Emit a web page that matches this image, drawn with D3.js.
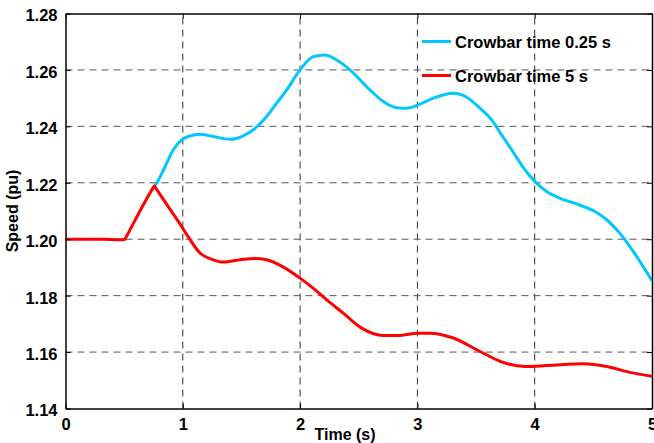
<!DOCTYPE html>
<html>
<head>
<meta charset="utf-8">
<script src="https://cdn.jsdelivr.net/npm/d3@7"></script>
<style>
  html, body { margin: 0; padding: 0; background: #fff; }
  svg { display: block; }
  text { font-family: "Liberation Sans", Arial, sans-serif; font-weight: bold; fill: #000; }
</style>
</head>
<body>
<svg id="chart" width="654" height="443"></svg>
<script>
// Rotor speed after fault, two crowbar durations
const xTicks = [0, 1, 2, 3, 4, 5];
const yTicks = [1.14, 1.16, 1.18, 1.20, 1.22, 1.24, 1.26, 1.28];

const seriesNames = ["Crowbar time 0.25 s", "Crowbar time 5 s"];
const seriesColors = ["#00c8ff", "#ff0000"];

const timeShort = [0.757, 0.777, 0.848, 0.919, 0.99, 1.061, 1.147, 1.26, 1.402, 1.502, 1.616, 1.715, 1.8, 1.886, 1.999, 2.113, 2.212, 2.312, 2.425, 2.596, 2.709, 2.824, 2.909, 3.008, 3.136, 3.306, 3.42, 3.534, 3.633, 3.719, 3.818, 3.903, 4.003, 4.102, 4.216, 4.358, 4.514, 4.614, 4.713, 4.841, 5.0];
const speedShort = [1.2189, 1.2199, 1.2257, 1.2317, 1.2352, 1.2366, 1.2372, 1.2364, 1.2354, 1.2364, 1.2393, 1.2435, 1.2482, 1.2529, 1.2600, 1.2647, 1.2653, 1.2635, 1.2600, 1.2529, 1.2488, 1.2466, 1.2464, 1.2476, 1.2500, 1.2517, 1.2503, 1.2464, 1.2423, 1.2369, 1.2308, 1.2254, 1.2204, 1.2169, 1.2145, 1.2125, 1.2098, 1.2069, 1.2027, 1.1956, 1.1853];

const timeLong = [0, 0.3, 0.48, 0.507, 0.52, 0.745, 0.757, 0.77, 0.88, 0.99, 1.047, 1.147, 1.26, 1.345, 1.488, 1.616, 1.715, 1.857, 1.999, 2.113, 2.227, 2.368, 2.525, 2.709, 2.852, 2.999, 3.107, 3.306, 3.534, 3.732, 3.917, 4.102, 4.414, 4.614, 4.812, 5.0];
const speedLong = [1.2000, 1.2000, 1.1998, 1.2000, 1.2010, 1.2181, 1.2189, 1.2181, 1.2113, 1.2045, 1.2008, 1.1951, 1.1927, 1.1919, 1.1927, 1.1932, 1.1927, 1.1901, 1.1862, 1.1826, 1.1785, 1.1738, 1.1685, 1.1659, 1.1659, 1.1667, 1.1667, 1.1650, 1.1602, 1.1563, 1.1549, 1.1552, 1.1559, 1.1549, 1.1528, 1.1514];

const svg = d3.select("#chart");
const margin = { left: 65.5, right: 2, top: 13.5, bottom: 34.5 };
const W = 654, H = 443;
const x = d3.scaleLinear().domain([0, 5]).range([margin.left, W - margin.right]);
const y = d3.scaleLinear().domain([1.14, 1.28]).range([H - margin.bottom, margin.top]);

svg.append("defs").append("clipPath").attr("id", "plotClip")
  .append("rect")
  .attr("x", x(0)).attr("y", y(1.28))
  .attr("width", x(5) - x(0)).attr("height", y(1.14) - y(1.28));

// dashed grid
const grid = svg.append("g");
grid.selectAll("line.gx").data(xTicks.slice(1, -1)).join("line")
  .attr("x1", d => x(d)).attr("x2", d => x(d))
  .attr("y1", y(1.14)).attr("y2", y(1.28))
  .attr("stroke", "#333").attr("stroke-width", 1).attr("stroke-dasharray", "7,5");
grid.selectAll("line.gy").data(yTicks.slice(1, -1)).join("line")
  .attr("x1", x(0)).attr("x2", x(5))
  .attr("y1", d => y(d)).attr("y2", d => y(d))
  .attr("stroke", "#555").attr("stroke-width", 1).attr("stroke-dasharray", "7,5");

// series
const line = d3.line().x(d => x(d[0])).y(d => y(d[1])).curve(d3.curveMonotoneX);
const seriesData = [
  d3.zip(timeShort, speedShort),
  d3.zip(timeLong, speedLong)
];
const plot = svg.append("g").attr("clip-path", "url(#plotClip)");
seriesData.forEach((pts, i) => {
  plot.append("path").datum(pts)
    .attr("d", line).attr("fill", "none")
    .attr("stroke", seriesColors[i]).attr("stroke-width", 3).attr("stroke-linejoin", "round");
});

// axes (ticks inside, box on)
const fontSize = "16.5px";
const bottomAxis = d3.axisBottom(x).tickValues(xTicks).tickFormat(d3.format("d")).tickSizeInner(-5).tickSizeOuter(0).tickPadding(10);
const leftAxis = d3.axisLeft(y).tickValues(yTicks).tickFormat(d3.format(".2f")).tickSizeInner(-5).tickSizeOuter(0).tickPadding(8);
const topAxis = d3.axisTop(x).tickValues(xTicks).tickFormat("").tickSizeInner(-5).tickSizeOuter(0);
const rightAxis = d3.axisRight(y).tickValues(yTicks).tickFormat("").tickSizeInner(-5).tickSizeOuter(0);

function styleAxis(g) {
  g.select(".domain").attr("stroke", "#000").attr("stroke-width", 1.5);
  g.selectAll(".tick line").attr("stroke", "#000").attr("stroke-width", 1);
  g.selectAll(".tick text").style("font-size", fontSize).style("font-weight", "bold")
    .style("font-family", '"Liberation Sans", Arial, sans-serif').attr("fill", "#000");
}
svg.append("g").attr("transform", `translate(0,${y(1.14)})`).call(bottomAxis).call(styleAxis);
svg.append("g").attr("transform", `translate(${x(0)},0)`).call(leftAxis).call(styleAxis)
  .selectAll(".tick text").attr("dy", "0.45em");
svg.append("g").attr("transform", `translate(0,${y(1.28)})`).call(topAxis).call(styleAxis);
svg.append("g").attr("transform", `translate(${x(5)},0)`).call(rightAxis).call(styleAxis);

// axis titles
svg.append("text").attr("x", 345).attr("y", 440).attr("text-anchor", "middle")
  .style("font-size", "16px").text("Time (s)");
svg.append("text").attr("transform", `translate(18,${(y(1.14) + y(1.28)) / 2}) rotate(-90)`)
  .attr("text-anchor", "middle").style("font-size", "16px").text("Speed (pu)");

// legend
const legend = svg.append("g");
seriesNames.forEach((name, i) => {
  const ly = 41.5 + i * 34;
  legend.append("line").attr("x1", 422).attr("x2", 451).attr("y1", ly).attr("y2", ly)
    .attr("stroke", seriesColors[i]).attr("stroke-width", 3);
  legend.append("text").attr("x", 455).attr("y", ly + 6).style("font-size", "16.5px").text(name);
});
</script>
</body>
</html>
